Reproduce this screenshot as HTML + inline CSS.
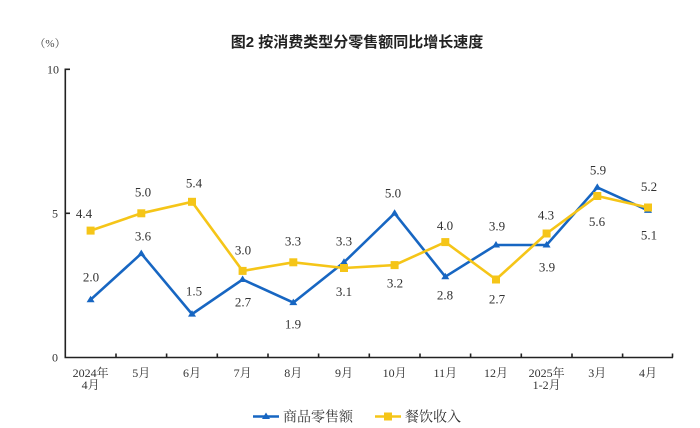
<!DOCTYPE html>
<html><head><meta charset="utf-8"><style>
html,body{margin:0;padding:0;background:#fff;}
svg{display:block;}
.v{font-family:"Liberation Serif","Noto Serif CJK SC",serif;font-size:13px;fill:#333;text-anchor:middle;}
.xl{font-family:"Liberation Serif","Noto Serif CJK SC",serif;font-size:12px;fill:#333;text-anchor:middle;}
</style></head><body>
<svg width="700" height="428" viewBox="0 0 700 428" xmlns="http://www.w3.org/2000/svg">
<rect width="700" height="428" fill="#fff"/>
<text x="357" y="47" font-family="'Liberation Sans','Noto Sans CJK SC',sans-serif" font-size="15" font-weight="bold" fill="#222" text-anchor="middle">图2 按消费类型分零售额同比增长速度</text>
<text x="50" y="47" font-family="'Liberation Serif','Noto Serif CJK SC',serif" font-size="11" fill="#444" text-anchor="middle">（%）</text>
<!-- axes -->
<g stroke="#222" stroke-width="1.6" fill="none">
<line x1="65.3" y1="68.5" x2="65.3" y2="358"/>
<line x1="64.5" y1="357.5" x2="673" y2="357.5"/>
<line x1="65.3" y1="69.3" x2="70" y2="69.3"/>
<line x1="65.3" y1="213.3" x2="70" y2="213.3"/>
<line x1="116" y1="353.5" x2="116" y2="357.5"/>
<line x1="166.6" y1="353.5" x2="166.6" y2="357.5"/>
<line x1="217.3" y1="353.5" x2="217.3" y2="357.5"/>
<line x1="268" y1="353.5" x2="268" y2="357.5"/>
<line x1="318.6" y1="353.5" x2="318.6" y2="357.5"/>
<line x1="369.3" y1="353.5" x2="369.3" y2="357.5"/>
<line x1="420" y1="353.5" x2="420" y2="357.5"/>
<line x1="470.6" y1="353.5" x2="470.6" y2="357.5"/>
<line x1="521.3" y1="353.5" x2="521.3" y2="357.5"/>
<line x1="572" y1="353.5" x2="572" y2="357.5"/>
<line x1="622.6" y1="353.5" x2="622.6" y2="357.5"/>
<line x1="672.5" y1="353.5" x2="672.5" y2="357.5"/>
</g>
<g font-family="'Liberation Serif',serif" font-size="12" fill="#333" text-anchor="end">
<text x="59" y="73.5">10</text>
<text x="58" y="217.5">5</text>
<text x="58" y="361.5">0</text>
</g>
<!-- x labels -->
<text class="xl" x="90.6" y="377">2024年</text>
<text class="xl" x="90.6" y="389">4月</text>
<text class="xl" x="141.3" y="377">5月</text>
<text class="xl" x="192" y="377">6月</text>
<text class="xl" x="242.6" y="377">7月</text>
<text class="xl" x="293.3" y="377">8月</text>
<text class="xl" x="344" y="377">9月</text>
<text class="xl" x="394.6" y="377">10月</text>
<text class="xl" x="445.3" y="377">11月</text>
<text class="xl" x="496" y="377">12月</text>
<text class="xl" x="546.6" y="377">2025年</text>
<text class="xl" x="546.6" y="389">1-2月</text>
<text class="xl" x="597.3" y="377">3月</text>
<text class="xl" x="648" y="377">4月</text>
<!-- blue series -->
<polyline fill="none" stroke="#1766c2" stroke-width="2.6" stroke-linejoin="miter" points="90.6,299.7 141.3,253.6 192,314.1 242.6,279.5 293.3,302.6 344,262.3 394.6,213.3 445.3,276.7 496,245 546.6,245 597.3,187.4 648,210.4"/>
<g fill="#1766c2">
<polygon points="90.6,295.7 94.6,302.2 86.6,302.2"/>
<polygon points="141.3,249.6 145.3,256.1 137.3,256.1"/>
<polygon points="192,310.1 196,316.6 188,316.6"/>
<polygon points="242.6,275.5 246.6,282 238.6,282"/>
<polygon points="293.3,298.6 297.3,305.1 289.3,305.1"/>
<polygon points="344,258.3 348,264.8 340,264.8"/>
<polygon points="394.6,209.3 398.6,215.8 390.6,215.8"/>
<polygon points="445.3,272.7 449.3,279.2 441.3,279.2"/>
<polygon points="496,241 500,247.5 492,247.5"/>
<polygon points="546.6,241 550.6,247.5 542.6,247.5"/>
<polygon points="597.3,183.4 601.3,189.9 593.3,189.9"/>
<polygon points="648,206.4 652,212.9 644,212.9"/>
</g>
<!-- yellow series -->
<polyline fill="none" stroke="#f5c518" stroke-width="2.6" stroke-linejoin="miter" points="90.6,230.6 141.3,213.3 192,201.8 242.6,270.9 293.3,262.3 344,268 394.6,265.1 445.3,242.1 496,279.5 546.6,233.5 597.3,196 648,207.5"/>
<g fill="#f5c518">
<rect x="86.6" y="226.6" width="8" height="8"/>
<rect x="137.3" y="209.3" width="8" height="8"/>
<rect x="188" y="197.8" width="8" height="8"/>
<rect x="238.6" y="266.9" width="8" height="8"/>
<rect x="289.3" y="258.3" width="8" height="8"/>
<rect x="340" y="264" width="8" height="8"/>
<rect x="390.6" y="261.1" width="8" height="8"/>
<rect x="441.3" y="238.1" width="8" height="8"/>
<rect x="492" y="275.5" width="8" height="8"/>
<rect x="542.6" y="229.5" width="8" height="8"/>
<rect x="593.3" y="192" width="8" height="8"/>
<rect x="644" y="203.5" width="8" height="8"/>
</g>
<!-- blue labels -->
<text class="v" x="91" y="281.5">2.0</text>
<text class="v" x="143" y="240.5">3.6</text>
<text class="v" x="194" y="295.5">1.5</text>
<text class="v" x="243" y="306.5">2.7</text>
<text class="v" x="293" y="328.5">1.9</text>
<text class="v" x="344" y="245.5">3.3</text>
<text class="v" x="393" y="197.5">5.0</text>
<text class="v" x="445" y="299.5">2.8</text>
<text class="v" x="497" y="230.5">3.9</text>
<text class="v" x="547" y="271.5">3.9</text>
<text class="v" x="598" y="174.5">5.9</text>
<text class="v" x="649" y="239.5">5.1</text>
<!-- yellow labels -->
<text class="v" x="84" y="218">4.4</text>
<text class="v" x="143" y="196.5">5.0</text>
<text class="v" x="194" y="187.5">5.4</text>
<text class="v" x="243" y="254.5">3.0</text>
<text class="v" x="293" y="245.5">3.3</text>
<text class="v" x="344" y="296">3.1</text>
<text class="v" x="395" y="287.5">3.2</text>
<text class="v" x="445" y="230">4.0</text>
<text class="v" x="497" y="303.5">2.7</text>
<text class="v" x="546" y="219.5">4.3</text>
<text class="v" x="597" y="226">5.6</text>
<text class="v" x="649" y="191">5.2</text>
<!-- legend -->
<line x1="253" y1="416.5" x2="279" y2="416.5" stroke="#1766c2" stroke-width="2.6"/>
<polygon points="266,412.5 270,419 262,419" fill="#1766c2"/>
<text x="283" y="421.5" font-family="'Liberation Serif','Noto Serif CJK SC',serif" font-size="14" fill="#333">商品零售额</text>
<line x1="375" y1="416.5" x2="401" y2="416.5" stroke="#f5c518" stroke-width="2.6"/>
<rect x="384" y="412.5" width="8" height="8" fill="#f5c518"/>
<text x="405" y="421.5" font-family="'Liberation Serif','Noto Serif CJK SC',serif" font-size="14" fill="#333">餐饮收入</text>
</svg>
</body></html>
